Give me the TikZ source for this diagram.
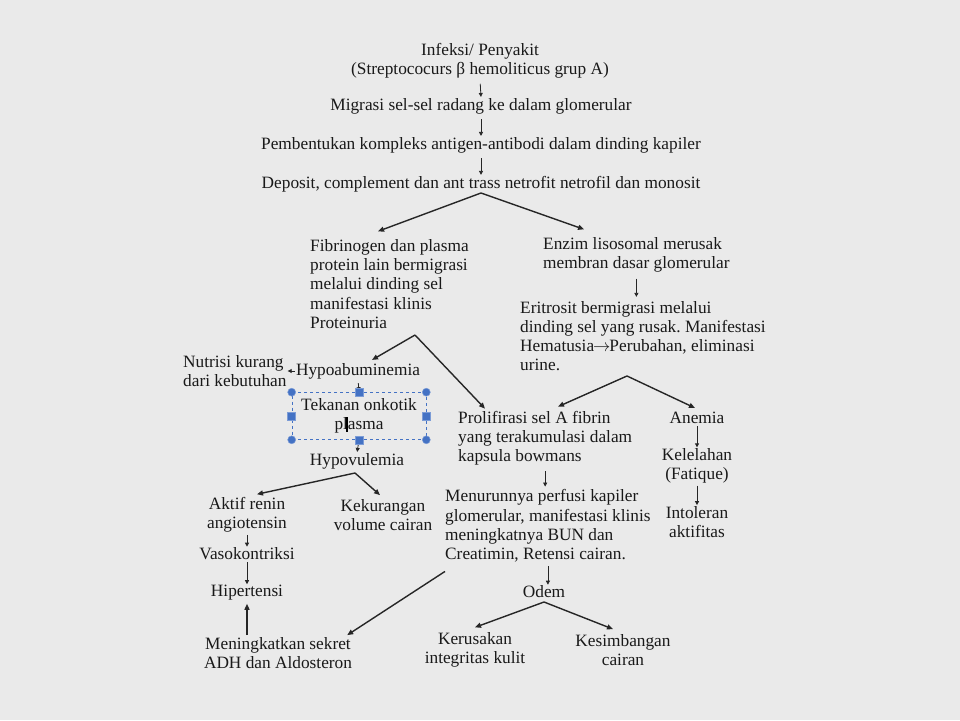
\documentclass[tikz,border=0pt]{standalone}
\usepackage{fontspec}
\setmainfont{Liberation Serif}
\usetikzlibrary{arrows.meta}
\definecolor{page}{RGB}{234,234,234}
\definecolor{grip}{RGB}{68,114,196}
\frenchspacing

\begin{document}
\begin{tikzpicture}[
    x=1pt, y=-1pt,
    box/.style={font=\fontsize{17.3}{19.2}\selectfont, inner sep=0pt,
        align=center, text=black!90},
    lbox/.style={box, align=left, anchor=west},
    link/.style={draw=black!85, line width=1.4pt,
        -{Triangle[length=6pt, width=5pt]}},
    tick/.style={draw=black!85, line width=.8pt,
        -{Triangle[length=4pt, width=4pt]}, shorten <=2pt, shorten >=1pt},
    handle/.style={fill=grip, draw=grip!70!white, line width=.5pt},
]
    %% the page
    \fill[page] (0, 0) rectangle (960, 720);
    \useasboundingbox (0, 0) rectangle (960, 720);

    %% the trunk
    \node[box] (infeksi) at (480, 61)
        {Infeksi/ Penyakit\\(Streptococurs β hemoliticus grup A)};
    \node[box] (migrasi) at (481, 106)
        {Migrasi sel-sel radang ke dalam glomerular};
    \node[box] (kompleks) at (481, 145)
        {Pembentukan kompleks antigen-antibodi dalam dinding kapiler};
    \node[box] (deposit) at (481, 184)
        {Deposit, complement dan ant trass netrofit netrofil dan monosit};

    %% left branch
    \node[lbox] (fibrin) at (310, 284) {Fibrinogen dan plasma\\
        protein lain bermigrasi\\melalui dinding sel\\
        manifestasi klinis\\Proteinuria};
    \node[lbox] (nutrisi) at (183, 371) {Nutrisi kurang\\dari kebutuhan};
    \node[box] (hypoab) at (358, 371) {Hypoabuminemia};
    \node[box, draw=grip, dashed, line width=.6pt, minimum width=134pt,
        minimum height=47pt] (tekanan) at (359, 416)
        {Tekanan onkotik\\plasma};
    \node[box] (hypovul) at (357, 461) {Hypovulemia};
    \node[box] (aktif) at (247, 515) {Aktif renin\\angiotensin};
    \node[box] (kekurangan) at (383, 515) {Kekurangan\\volume cairan};
    \node[box] (vaso) at (247, 554) {Vasokontriksi};
    \node[box] (hiper) at (247, 593) {Hipertensi};
    \node[box] (meningkat) at (278, 653)
        {Meningkatkan sekret\\ADH dan Aldosteron};

    %% right branch
    \node[lbox] (enzim) at (543, 255)
        {Enzim lisosomal merusak\\membran dasar glomerular};
    \node[lbox] (eritrosit) at (520, 336) {Eritrosit bermigrasi melalui\\
        dinding sel yang rusak. Manifestasi\\
        Hematusia\kern-1pt$\rightarrow$\kern-1pt Perubahan, eliminasi\\urine.};
    \node[lbox] (prolif) at (458, 438) {Prolifirasi sel A fibrin\\
        yang terakumulasi dalam\\kapsula bowmans};
    \node[lbox] (menurun) at (445, 526) {Menurunnya perfusi kapiler\\
        glomerular, manifestasi klinis\\meningkatnya BUN dan\\
        Creatimin, Retensi cairan.};
    \node[box] (anemia) at (697, 418) {Anemia};
    \node[box] (lelah) at (697, 466) {Kelelahan\\(Fatique)};
    \node[box] (intoleran) at (697, 522) {Intoleran\\aktifitas};
    \node[box] (odem) at (544, 592) {Odem};
    \node[box] (kerusakan) at (475, 650) {Kerusakan\\integritas kulit};
    \node[box] (kesimbangan) at (623, 650) {Kesimbangan\\cairan};

    %% the forks
    \coordinate (fork1) at (481, 193);
    \coordinate (fork2) at (415, 335);
    \coordinate (fork3) at (355, 473);
    \coordinate (fork4) at (627, 376);
    \coordinate (fork5) at (544, 602);

    %% short arrows down the trunk
    \draw[tick, shorten <=5pt] (infeksi.south) -- (migrasi.north);
    \draw[tick, shorten <=5pt] (migrasi.south) -- (kompleks.north);
    \draw[tick, shorten <=5pt] (kompleks.south) -- (deposit.north);

    \draw[link] (fork1) -- ([shift={(68, -8)}]fibrin.north west);
    \draw[link] (fork1) -- ([shift={(41, -8)}]enzim.north west);
    \draw[tick, shorten <=6pt, shorten >=4pt] (enzim.south)
        -- (enzim.south |- eritrosit.north);

    \draw[link] (fork2) -- ([shift={(14, -3)}]hypoab.north);
    \draw[link] (fork2) -- ([shift={(27, -2)}]prolif.north west);
    \draw[tick, shorten <=1pt] (hypoab.west) -- (nutrisi.east |- hypoab.west);
    \draw[tick, shorten <=4pt] (hypoab.south) -- (tekanan.north);
    \draw[tick, shorten <=1pt] (tekanan.south) -- (hypovul.north);
    \draw[line width=1.3pt] ([shift={(-12, 1)}]tekanan.center)
        -- ++(0, 15);

    \draw[link] (fork3) -- ([shift={(10, -3)}]aktif.north);
    \draw[link] (fork3) -- ([shift={(-3, -4)}]kekurangan.north);
    \draw[tick] (aktif.south) -- (vaso.north);
    \draw[tick] (vaso.south) -- (hiper.north);
    \draw[link, shorten <=2pt, shorten >=3pt] (hiper.south |- meningkat.north)
        -- (hiper.south);
    \draw[link] ([shift={(0, 9)}]menurun.south west)
        -- ([shift={(-5, -2)}]meningkat.north east);

    \draw[link] (fork4) -- ([shift={(100, -4)}]prolif.north west);
    \draw[link] (fork4) -- ([shift={(-2, -4)}]anemia.north);
    \draw[tick, shorten <=6pt, shorten >=3pt] (prolif.south)
        -- (prolif.south |- menurun.north);
    \draw[tick] (anemia.south) -- (lelah.north);
    \draw[tick] (lelah.south) -- (intoleran.north);

    \draw[tick, shorten <=4pt] (menurun.south) -- (menurun.south |- odem.north);
    \draw[link] (fork5) -- ([shift={(0, -5)}]kerusakan.north);
    \draw[link] (fork5) -- ([shift={(-10, -5)}]kesimbangan.north);

    %% the selection handles round the onkotik box
    \foreach \c in {north west, north east, south west, south east}
        \filldraw[handle] (tekanan.\c) circle (4pt);
    \foreach \c in {north, south, west, east}
        \filldraw[handle] (tekanan.\c) ++(-4, -4) rectangle ++(8, 8);
\end{tikzpicture}
\end{document}
